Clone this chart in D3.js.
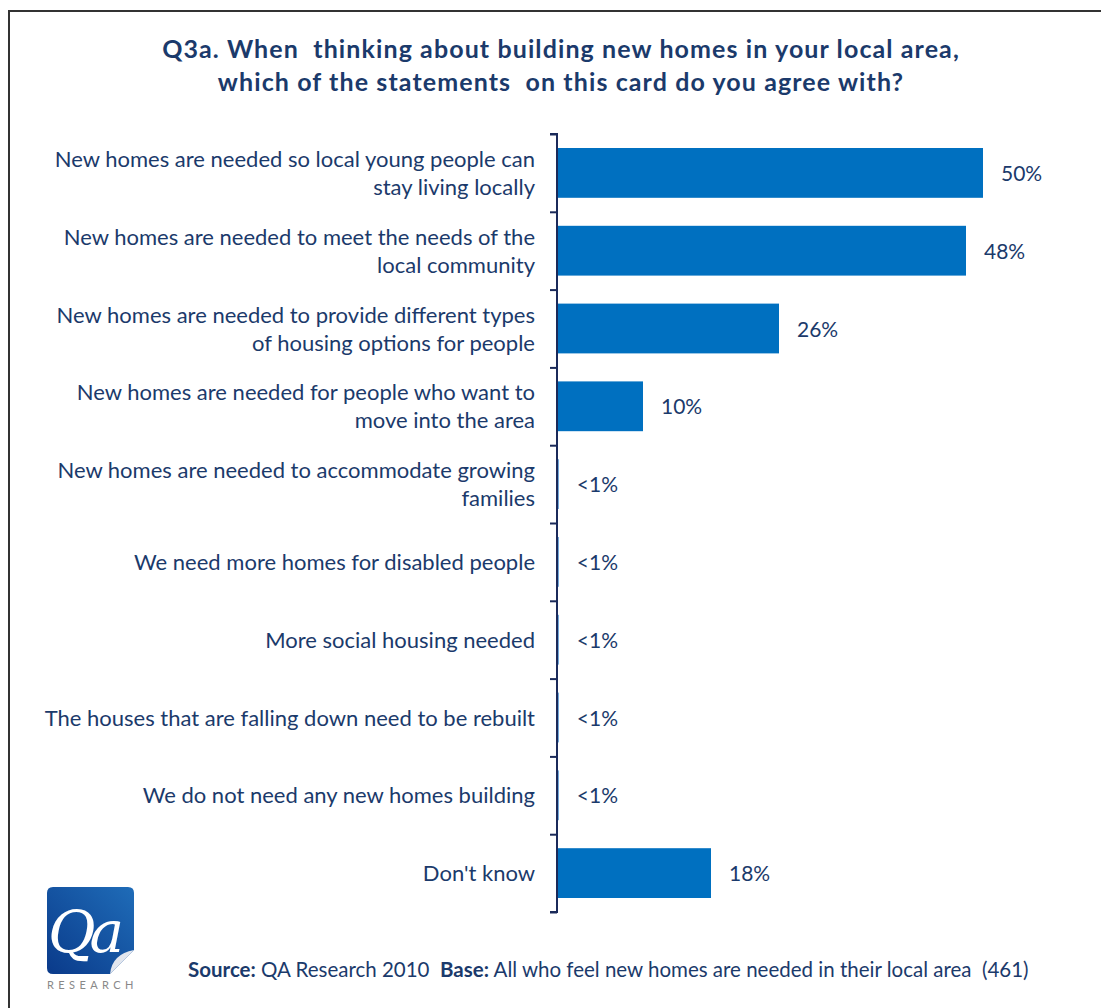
<!DOCTYPE html>
<html><head><meta charset="utf-8">
<script src="https://cdn.jsdelivr.net/npm/d3@7"></script>
<style>body{margin:0;background:#fff}svg{display:block}text{white-space:pre}</style>
</head><body>
<svg id="c" width="1101" height="1008"></svg>
<script>
const categories = [
  ["New homes are needed so local young people can", "stay living locally"],
  ["New homes are needed to meet the needs of the", "local community"],
  ["New homes are needed to provide different types", "of housing options for people"],
  ["New homes are needed for people who want to", "move into the area"],
  ["New homes are needed to accommodate growing", "families"],
  ["We need more homes for disabled people"],
  ["More social housing needed"],
  ["The houses that are falling down need to be rebuilt"],
  ["We do not need any new homes building"],
  ["Don't know"]
];
const values = [50, 48, 26, 10, 0.1, 0.1, 0.1, 0.1, 0.1, 18];
const valueLabels = ["50%", "48%", "26%", "10%", "<1%", "<1%", "<1%", "<1%", "<1%", "18%"];
const titleLines = ["Q3a. When  thinking about building new homes in your local area,", "which of the statements  on this card do you agree with?"];

const svg = d3.select("#c");
const font = "Lato, 'Open Sans', sans-serif";
const navy = "#1b3a6b";

// frame
svg.append("rect").attr("x", 9).attr("y", 11).attr("width", 1110).attr("height", 1010)
  .attr("fill", "none").attr("stroke", "#333").attr("stroke-width", 2);

// title
svg.append("g").selectAll("text").data(titleLines).join("text")
  .attr("x", 561).attr("y", (d, i) => 58 + i * 33)
  .attr("text-anchor", "middle").attr("font-family", font).attr("font-weight", "bold")
  .attr("font-size", 25).attr("letter-spacing", 1.1).attr("fill", navy).text(d => d);

const x = d3.scaleLinear().domain([0, 50]).range([558, 983]);
const y = d3.scaleBand().domain(d3.range(categories.length)).range([134, 912]).paddingInner(0.36).paddingOuter(0.18);

// bars
svg.append("g").selectAll("rect").data(values).join("rect")
  .attr("x", x(0)).attr("y", (d, i) => y(i))
  .attr("width", d => x(d) - x(0)).attr("height", y.bandwidth())
  .attr("fill", d => d < 1 ? "#5b9bd5" : "#0070c0");

// axis
const axisScale = d3.scaleLinear().domain([0, categories.length]).range([134, 912]);
const axis = d3.axisLeft(axisScale).ticks(categories.length).tickSize(7).tickFormat("");
const ag = svg.append("g").attr("transform", "translate(557,0)").call(axis);
ag.selectAll("path,line").attr("stroke", "#1b2a5a").attr("stroke-width", 2);
ag.select("path").attr("d", "M-7,134H0V912H-7");

// category labels
const lg = svg.append("g");
categories.forEach((lines, i) => {
  const cy = y(i) + y.bandwidth() / 2;
  const n = lines.length;
  lines.forEach((t, j) => {
    lg.append("text").attr("x", 535).attr("y", cy + (j - (n - 1) / 2) * 28 + 8)
      .attr("text-anchor", "end").attr("font-family", font).attr("font-size", 22)
      .attr("fill", navy).text(t);
  });
});

// value labels
svg.append("g").selectAll("text").data(values).join("text")
  .attr("x", d => x(d) + 18).attr("y", (d, i) => y(i) + y.bandwidth() / 2 + 8)
  .attr("font-family", font).attr("font-size", 21).attr("fill", navy)
  .text((d, i) => valueLabels[i]);

// logo
const logo = svg.append("g");
const grad = svg.append("defs").append("linearGradient").attr("id", "lg").attr("x1", 1).attr("y1", 0).attr("x2", 0).attr("y2", 1);
grad.append("stop").attr("offset", 0).attr("stop-color", "#1f6cb8");
grad.append("stop").attr("offset", 1).attr("stop-color", "#0a3a8a");
logo.append("path").attr("d", "M53,887 H128 Q134,887 134,893 V950 L110,974 H53 Q47,974 47,968 V893 Q47,887 53,887 Z").attr("fill", "url(#lg)");
logo.append("path").attr("d", "M134,950 L110,974 Q112,954 134,950 Z").attr("fill", "#e2e6ee");
logo.append("text").attr("x", 48).attr("y", 952).attr("font-family", "'DejaVu Serif', serif").attr("font-style", "italic")
  .attr("font-size", 58).attr("letter-spacing", -6).attr("fill", "#fff").text("Qa");
logo.append("text").attr("x", 47).attr("y", 989).attr("font-family", font)
  .attr("font-size", 11).attr("letter-spacing", 4.4).attr("fill", "#888").text("RESEARCH");

// source
const src = svg.append("text").attr("x", 188).attr("y", 977).attr("font-family", font).attr("font-size", 20.5).attr("fill", navy);
src.append("tspan").attr("font-weight", "bold").text("Source:");
src.append("tspan").text(" QA Research 2010  ");
src.append("tspan").attr("font-weight", "bold").text("Base:");
src.append("tspan").text(" All who feel new homes are needed in their local area  (461)");
</script>
</body></html>
